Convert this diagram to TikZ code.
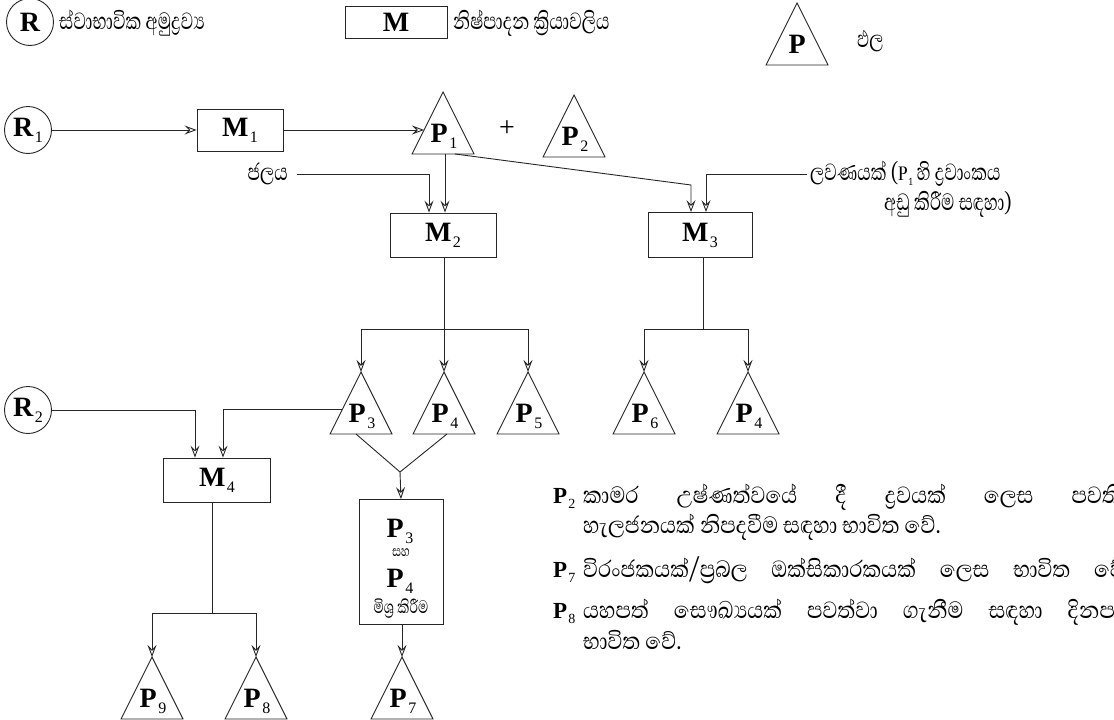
\documentclass[tikz,border=0pt]{standalone}
\usepackage{fontspec}
\setmainfont{Liberation Serif}
\newfontfamily\si[Script=Sinhala, FakeStretch=0.74]{Abhaya Libre}
\newfontfamily\sinote[Script=Sinhala, FakeStretch=0.88]{Abhaya Libre}
\usetikzlibrary{arrows.meta,calc}
\newcommand\plab[2]{{\fontsize{28}{28}\selectfont\bfseries #1}\kern1.5pt\raisebox{-6pt}{\fontsize{16}{16}\selectfont #2}}
\newcommand\slab[2]{{\fontsize{23}{23}\selectfont\bfseries #1}\kern1pt\raisebox{-5pt}{\fontsize{14}{14}\selectfont #2}}
\tikzset{
 ln/.style={line width=0.9pt, draw=black!85, line join=miter},
 arr/.style={ln, -{Stealth[open, length=12pt, width=9pt, inset=4.5pt, line width=0.9pt]}},
 mbox/.style={draw=black!85, line width=0.9pt, minimum width=86pt, minimum height=42pt, inner sep=0pt},
 rc/.style={circle, draw=black!85, line width=0.9pt, minimum size=47pt, inner sep=0pt},
 sit/.style={font=\si\fontsize{30}{32}\selectfont, inner sep=0pt},
 rt/.style={font=\si\fontsize{30}{32}\selectfont, inner sep=0pt, anchor=base west},
 nt/.style={font=\sinote\fontsize{30}{32}\selectfont, inner sep=0pt, anchor=base west},
 lbl/.style={inner sep=0pt, anchor=base},
}
\newcommand\tri[5]{%
  \coordinate (#1) at (#2,#3);
  \coordinate (#1b) at ($(#1)+(0,62)$);
  \draw[ln] (#1) -- ++(-31,62) -- ++(62,0) -- cycle;
  \node[lbl] (#1l) at ($(#1)+(1,50)$) {\plab{#4}{#5}};
}
\begin{document}
\begin{tikzpicture}[x=1pt,y=-1pt]
\useasboundingbox (0,0) rectangle (1114,720);
% legend
\node[rc] (rleg) at (30,22) {\fontsize{28}{28}\selectfont\bfseries R};
\node[sit, anchor=west] (tleg1) at (59,23) {ස්වාභාවික අමුද්^^^^200dරව්^^^^200dය};
\node[mbox, minimum width=102pt, minimum height=32pt] (mleg) at (396,22) {\fontsize{28}{28}\selectfont\bfseries M};
\node[sit, anchor=west] (tleg2) at (453,23) {නිෂ්පාදන ක්^^^^200dරියාවලිය};
\tri{pleg}{797}{3}{P}{}
\node[sit, anchor=west] (tleg3) at (857,41) {ඵල};
% row 1
\node[rc] (r1) at (28,130) {\plab{R}{1}};
\node[mbox] (m1) at (240,130) {\plab{M}{1}};
\tri{p1}{443}{92}{P}{1}
\coordinate (p1in) at (424,130);
\node (plus) at (507,129) {\fontsize{28}{28}\selectfont +};
\tri{p2}{574}{95}{P}{2}
\draw[arr] (r1) -- (m1);
\draw[arr] (m1) -- (p1in);
% M2, M3
\node[mbox, minimum width=106pt, minimum height=44pt] (m2) at (443,235) {\plab{M}{2}};
\node[mbox, minimum width=104pt, minimum height=45pt] (m3) at (700,235) {\plab{M}{3}};
\node[sit, anchor=east] (water) at (288,174) {ජලය};
\draw[arr] ([xshift=9pt]water.east) -| ([xshift=-14pt]m2.north);
\draw[arr] ([xshift=2pt]p1b) -- ([xshift=2pt]m2.north);
\coordinate (k1) at (691,185);
\draw[arr] ([xshift=12pt]p1b) -- (k1) -- (k1 |- m3.north);
\node[rt, anchor=west] (salt1) at (810,174) {ලවණයක් (\slab{P}{1} හි ද්^^^^200dරවාංකය};
\node[rt, anchor=west] (salt2) at (884,204) {අඩු කිරීම සඳහා)};
\draw[arr] ([xshift=-3pt]salt1.west) -| ([xshift=6pt]m3.north);
% M2 products
\tri{p3}{361}{372}{P}{3}
\tri{p4}{444}{372}{P}{4}
\tri{p5}{528}{372}{P}{5}
\coordinate (b2) at (444,329);
\draw[ln] ([xshift=1pt]m2.south) -- (b2);
\draw[arr] (b2) -- (p4);
\draw[arr] (b2) -| (p3);
\draw[arr] (b2) -| (p5);
% M3 products
\tri{p6}{644}{372}{P}{6}
\tri{p4x}{748}{372}{P}{4}
\coordinate (b3) at (703,329);
\draw[ln] ([xshift=3pt]m3.south) -- (b3);
\draw[arr] (b3) -| (p6);
\draw[arr] (b3) -| (p4x);
% bottom left
\node[rc] (r2) at (28,410) {\plab{R}{2}};
\node[mbox, minimum width=107pt, minimum height=44pt] (m4) at (217,480) {\plab{M}{4}};
\coordinate (p3w) at (342,409);
\draw[arr] (r2) -| ([xshift=-22pt]m4.north);
\draw[arr] (p3w) -| ([xshift=6pt]m4.north);
\tri{p9}{152}{657}{P}{9}
\tri{p8}{256}{657}{P}{8}
\coordinate (b4) at (212,613);
\draw[ln] ([xshift=-5pt]m4.south) -- (b4);
\draw[arr] (b4) -| (p9);
\draw[arr] (b4) -| (p8);
% mixing
\node[draw=black!85, line width=0.9pt, minimum width=84pt, minimum height=125pt, inner sep=0pt] (mix) at (401,562) {};
\node[lbl] (mixa) at (400,537) {\plab{P}{3}};
\node[sit, font=\si\fontsize{19}{19}\selectfont] (mixb) at (401,553) {සහ};
\node[lbl] (mixc) at (400,587) {\plab{P}{4}};
\node[sit, font=\si\fontsize{23}{23}\selectfont] (mixd) at (401,609) {මිශ්^^^^200dර කිරීම};
\coordinate (vj) at (400,472);
\draw[ln] ([xshift=-5pt]p3b) -- (vj) -- ([xshift=3pt]p4b);
\draw[arr] (vj) -- (mix.north);
\tri{p7}{402}{657}{P}{7}
\draw[arr] ([xshift=1pt]mix.south) -- (p7);
% right notes
\node[lbl, anchor=base west] (q2) at (553,503) {\slab{P}{2}};
\node[nt] (n1) at (583,503) {\makebox[557pt][s]{කාමර උෂ්ණත්වයේ දී ද්^^^^200dරවයක් ලෙස පවතින}};
\node[nt] (n2) at (583,533) {හැලජනයක් නිපදවීම සඳහා භාවිත වේ.};
\node[lbl, anchor=base west] (q7) at (553,577) {\slab{P}{7}};
\node[nt] (n3) at (583,577) {\makebox[547pt][s]{විරංජකයක්/ප්^^^^200dරබල ඔක්සිකාරකයක් ලෙස භාවිත වේ.}};
\node[lbl, anchor=base west] (q8) at (553,618) {\slab{P}{8}};
\node[nt] (n4) at (583,618) {\makebox[557pt][s]{යහපත් සෞඛ්^^^^200dයයක් පවත්වා ගැනීම සඳහා දිනපතා}};
\node[nt] (n5) at (583,649) {භාවිත වේ.};
\end{tikzpicture}
\end{document}
